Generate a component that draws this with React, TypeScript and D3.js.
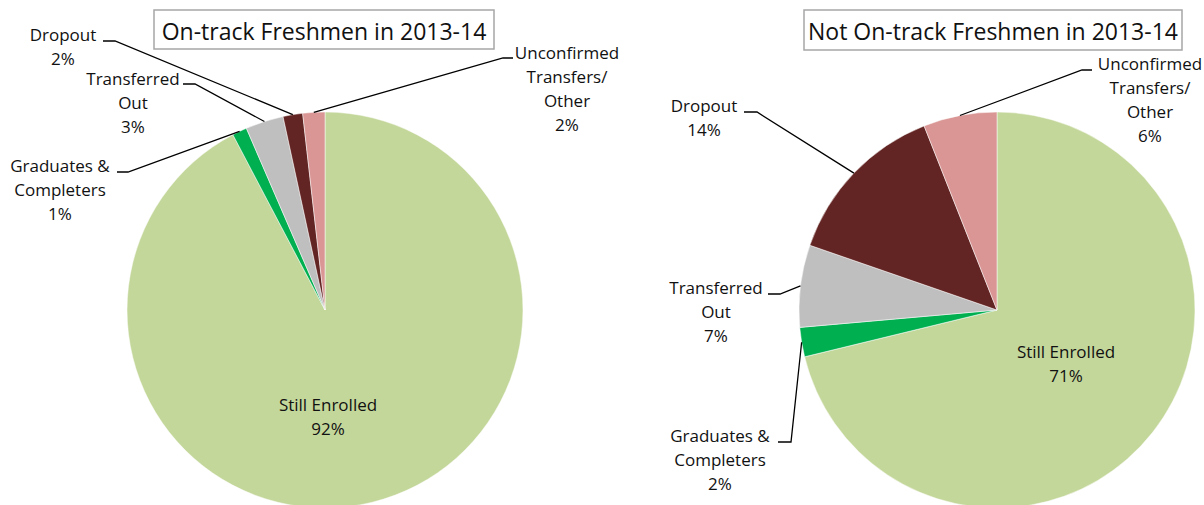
import React from "react";
import * as d3 from "d3";

// ---- data ----
const categories = [
  "Still Enrolled",
  "Graduates & Completers",
  "Transferred Out",
  "Dropout",
  "Unconfirmed Transfers/ Other",
];
const onTrackValues = [92.3, 1.2, 3.1, 1.6, 1.8];
const notOnTrackValues = [71.2, 2.4, 6.7, 13.7, 6.0];
const labelLines = [
  ["Still Enrolled"],
  ["Graduates &", "Completers"],
  ["Transferred", "Out"],
  ["Dropout"],
  ["Unconfirmed", "Transfers/", "Other"],
];
const titles = ["On-track Freshmen in 2013-14", "Not On-track Freshmen in 2013-14"];
const colors = ["#C4D79B", "#00B050", "#BFBFBF", "#632523", "#D99694"];

// ---- layout ----
const W = 1204;
const H = 505;
const R = 198;
const FONT = "'Open Sans', 'Noto Sans', sans-serif";

type LabelPos = { tx: number; ty: number; lx?: number; ex?: number; ly?: number };

const charts = [
  {
    cx: 325,
    cy: 310,
    values: onTrackValues,
    title: titles[0],
    box: { x: 154, y: 10, w: 340, h: 39 },
    labels: [
      { tx: 328, ty: 411 },
      { tx: 60, ty: 172, lx: 117, ex: 128, ly: 172 },
      { tx: 133, ty: 85, lx: 183, ex: 195, ly: 84 },
      { tx: 63, ty: 41, lx: 103, ex: 115, ly: 41 },
      { tx: 567, ty: 59, lx: 513, ex: 503, ly: 58 },
    ] as LabelPos[],
  },
  {
    cx: 997,
    cy: 310,
    values: notOnTrackValues,
    title: titles[1],
    box: { x: 804, y: 10, w: 378, h: 40 },
    labels: [
      { tx: 1066, ty: 358 },
      { tx: 720, ty: 442, lx: 778, ex: 791, ly: 442 },
      { tx: 716, ty: 294, lx: 768, ex: 780, ly: 294 },
      { tx: 704, ty: 112, lx: 744, ex: 757, ly: 112 },
      { tx: 1150, ty: 70, lx: 1092, ex: 1082, ly: 70 },
    ] as LabelPos[],
  },
];

const LINE_H = 24;

function Pie({ chart }: { chart: (typeof charts)[number] }) {
  const pieGen = d3
    .pie<number>()
    .sort(null)
    .value((d) => d)
    .startAngle(0)
    .endAngle(2 * Math.PI);
  const arcs = pieGen(chart.values);
  const arcGen = d3.arc<d3.PieArcDatum<number>>().innerRadius(0).outerRadius(R);
  const total = d3.sum(chart.values);

  return (
    <g>
      <g transform={`translate(${chart.cx},${chart.cy})`}>
        {arcs.map((a, i) => (
          <path key={i} d={arcGen(a) || ""} fill={colors[i]} stroke="#fff" strokeWidth={0.5} />
        ))}
      </g>
      {arcs.map((a, i) => {
        const lp = chart.labels[i];
        const mid = (a.startAngle + a.endAngle) / 2;
        const px = chart.cx + R * Math.sin(mid);
        const py = chart.cy - R * Math.cos(mid);
        const pct = `${Math.round((a.value / total) * 100)}%`;
        const lines = [...labelLines[i], pct];
        return (
          <g key={i}>
            {lp.lx !== undefined && (
              <polyline
                points={`${lp.lx},${lp.ly} ${lp.ex},${lp.ly} ${px},${py}`}
                fill="none"
                stroke="#000"
                strokeWidth={1.3}
              />
            )}
            <text
              x={lp.tx}
              y={lp.ty}
              textAnchor="middle"
              fontFamily={FONT}
              fontSize={17}
              fill="#111"
            >
              {lines.map((t, j) => (
                <tspan key={j} x={lp.tx} y={lp.ty + j * LINE_H}>
                  {t}
                </tspan>
              ))}
            </text>
          </g>
        );
      })}
      <rect
        x={chart.box.x}
        y={chart.box.y}
        width={chart.box.w}
        height={chart.box.h}
        fill="#fff"
        stroke="#A6A6A6"
        strokeWidth={1.5}
      />
      <text
        x={chart.box.x + chart.box.w / 2}
        y={chart.box.y + 30}
        textAnchor="middle"
        fontFamily={FONT}
        fontSize={23}
        fill="#111"
      >
        {chart.title}
      </text>
    </g>
  );
}

export default function App() {
  return (
    <svg
      width={W}
      height={H}
      viewBox={`0 0 ${W} ${H}`}
      style={{ position: "absolute", left: 0, top: 0, background: "#fff" }}
    >
      {charts.map((c, i) => (
        <Pie key={i} chart={c} />
      ))}
    </svg>
  );
}
